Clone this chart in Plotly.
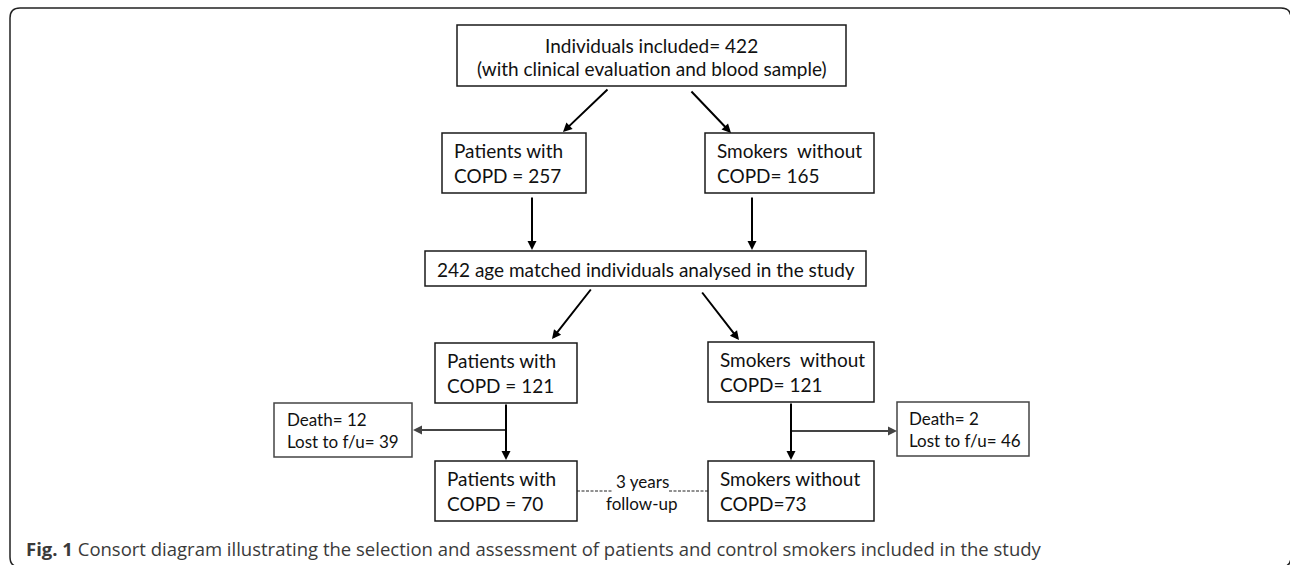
import plotly.graph_objects as go

# ---- data (counts in the CONSORT flow) ----
included_total = 422
copd_initial = 257
smokers_initial = 165
matched_total = 242
copd_matched = 121
smokers_matched = 121
copd_death, copd_lost = 12, 39
smk_death, smk_lost = 2, 46
copd_final = 70
smokers_final = 73
followup_years = 3

W, H = 1290, 565
FONT = "Lato"
BOX_COL = "#1a1a1a"

fig = go.Figure()
shapes = []
ann = []

def box(x0, y0, x1, y1, color=BOX_COL, w=1.5):
    shapes.append(dict(type="rect", x0=x0, y0=y0, x1=x1, y1=y1, xref="x", yref="y",
                       line=dict(color=color, width=w), fillcolor="white", layer="above"))

def text(x, y, s, size=19, xanchor="left", color="#111", align="left", family=FONT):
    ann.append(dict(x=x, y=y, xref="x", yref="y", text=s, showarrow=False, xanchor=xanchor,
                    yanchor="middle", align=align, font=dict(family=family, size=size, color=color)))

def arrow(x0, y0, x1, y1, color="#000", w=2, size=0.9):
    ann.append(dict(x=x1, y=y1, ax=x0, ay=y0, xref="x", yref="y", axref="x", ayref="y",
                    text="", showarrow=True, arrowhead=2, arrowsize=size, arrowwidth=w,
                    arrowcolor=color, standoff=0, startstandoff=0))

def line(x0, y0, x1, y1, color="#000", w=2, dash="solid"):
    shapes.append(dict(type="line", x0=x0, y0=y0, x1=x1, y1=y1, xref="x", yref="y",
                       line=dict(color=color, width=w, dash=dash), layer="above"))

# outer rounded frame (right and bottom edges run just past the picture)
r = 10
L, T, R, B = 10, 8, 1291, 567
path = (f"M {L+r},{T} L {R-r},{T} Q {R},{T} {R},{T+r} L {R},{B-r} Q {R},{B} {R-r},{B} "
        f"L {L+r},{B} Q {L},{B} {L},{B-r} L {L},{T+r} Q {L},{T} {L+r},{T} Z")
shapes.append(dict(type="path", path=path, xref="x", yref="y", line=dict(color="#222", width=1.5)))

# top box
box(457, 25, 846, 86)
text(651.5, 45, f"Individuals included= {included_total}", xanchor="center", align="center")
text(651.5, 68, "(with clinical evaluation and blood sample)", xanchor="center", align="center")

# second row
box(442, 133, 586, 193)
text(452, 163, f"Patients with<br>COPD = {copd_initial}")
box(705, 133, 874, 193)
text(715, 163, f"Smokers  without<br>COPD= {smokers_initial}")

arrow(609, 88, 563, 132)
arrow(690, 90, 731, 133)

arrow(532, 196, 532, 250)
arrow(752, 196, 752, 250)

# matched box
box(425, 251, 866, 286)
text(645.5, 269, f"{matched_total} age matched individuals analysed in the study",
     xanchor="center", align="center")

arrow(592, 288, 552, 339)
arrow(701, 291, 739, 340)

# third row
box(435, 343, 577, 403)
text(445, 373, f"Patients with<br>COPD = {copd_matched}")
box(708, 342, 874, 402)
text(718, 372, f"Smokers  without<br>COPD= {smokers_matched}")

# dropouts
arrow(506, 403, 506, 460)
line(506, 430, 420, 430, color="#444", w=2)
arrow(440, 430, 413, 430, color="#444", w=2)
box(274, 403, 412, 457, color="#444", w=1.5)
text(285, 430, f"Death= {copd_death}<br>Lost to f/u= {copd_lost}", size=17)

arrow(791, 402, 791, 460)
line(791, 431, 880, 431, color="#444", w=2)
arrow(870, 431, 897, 431, color="#444", w=2)
box(897, 402, 1029, 456, color="#444", w=1.5)
text(907, 429, f"Death= {smk_death}<br>Lost to f/u= {smk_lost}", size=17)

# final row
box(435, 461, 577, 521)
text(445, 491, f"Patients with<br>COPD = {copd_final}")
box(708, 461, 874, 521)
text(718, 491, f"Smokers without<br>COPD={smokers_final}")

line(577, 491, 613, 491, color="#222", w=1, dash="3px,1.5px")
line(669, 491, 708, 491, color="#222", w=1, dash="3px,1.5px")
text(642, 481, f"{followup_years} years", size=17, xanchor="center", align="center")
text(642, 503, "follow-up", size=17, xanchor="center", align="center")

# caption
text(24, 548, "<b>Fig. 1</b> Consort diagram illustrating the selection and assessment of patients "
     "and control smokers included in the study", size=18.5, color="#3a3a3a", family="Open Sans")

fig.update_layout(
    width=W, height=H, autosize=False,
    margin=dict(l=0, r=0, t=0, b=0),
    paper_bgcolor="white", plot_bgcolor="white",
    xaxis=dict(range=[0, W], visible=False, fixedrange=True),
    yaxis=dict(range=[H, 0], visible=False, fixedrange=True),
    shapes=shapes, annotations=ann, showlegend=False,
)
fig.write_html("out.html", config={"displayModeBar": False},
               post_script="document.body.style.margin='0';document.body.style.overflow='hidden';")
